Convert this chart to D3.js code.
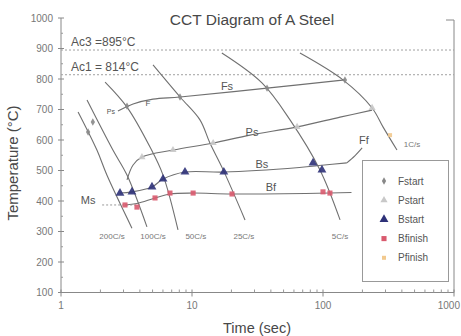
<!DOCTYPE html>
<html>
<head>
<meta charset="utf-8">
<script src="https://cdn.jsdelivr.net/npm/d3@7"></script>
<style>
  body { margin: 0; background: #fff; }
  svg { display: block; font-family: "Liberation Sans", Arial, sans-serif; }
</style>
</head>
<body>
<div id="chart"></div>
<script>
// cooling curves: [time (s), temperature (°C)]
const coolingRates = ['200C/s', '100C/s', '50C/s', '25C/s', '5C/s', '1C/s'];
const cool200 = [[1.35, 692], [1.88, 567], [2.24, 485], [3.48, 311]];
const cool100 = [[1.58, 731], [2.49, 567], [3.19, 485], [4.53, 315]];
const cool50 = [[2.17, 790], [3.19, 708], [4.78, 577], [6.01, 485], [7.82, 305]];
const cool25 = [[5.04, 846], [8.1, 741], [11.5, 666], [13.7, 590], [17.3, 502], [25.4, 338]];
const cool5 = [[16.9, 885], [34.2, 787], [56, 666], [94.8, 502], [135, 338]];
const cool1 = [[66.7, 885], [142, 797], [237, 705], [287, 643], [367, 567]];
const coolLabelPos = [[2.45, 275], [5.04, 275], [10.7, 275], [24.9, 275], [135, 275], [413, 578]];

// transformation lines
const fsLine = [[2.72, 695], [3.55, 718], [5.04, 734], [8.1, 741], [37.4, 770], [147, 797]];
const psLine = [[3.19, 469], [3.55, 518], [4.15, 544], [7.16, 567], [14.5, 590], [27.7, 616], [63.4, 643], [135, 675], [237, 698]];
const bsLine = [[2.82, 426], [3.48, 430], [4.95, 446], [6.01, 472], [8.84, 495], [17.5, 495], [66, 510], [98, 517], [152, 525]];
const ffLine = [[152, 525], [175, 548], [199, 574]];
const bfLine = [[3.08, 387], [3.8, 392], [5.22, 410], [6.79, 423], [10.2, 426], [20.2, 423], [113, 426], [165, 428]];
const msLine = [[2.06, 387], [4.01, 387]];

// measured points
const fStart = [[1.61, 626], [1.75, 659], [3.19, 711], [8.1, 741], [37.4, 770], [147, 797]];
const pStart = [[4.15, 544], [7.16, 567], [14.5, 590], [63.4, 643], [237, 705]];
const bStart = [[2.82, 426], [3.48, 430], [4.95, 446], [6.01, 472], [8.84, 495], [17.5, 495], [83.9, 525], [98.2, 502]];
const bFinish = [[3.08, 387], [3.8, 380], [5.22, 410], [6.79, 426], [10.2, 426], [20.2, 423], [100, 430], [113, 426]];
const pFinish = [[325, 616]];

const ac3 = 895, ac1 = 814;
const xTicks = [1, 10, 100, 1000];
const yTicks = [100, 200, 300, 400, 500, 600, 700, 800, 900, 1000];
const legendNames = ['Fstart', 'Pstart', 'Bstart', 'Bfinish', 'Pfinish'];

const width = 461, height = 336;
const svg = d3.select('#chart').append('svg')
  .attr('width', width).attr('height', height);

const x = d3.scaleLog().domain([1, 1000]).range([61, 454]);
const y = d3.scaleLinear().domain([100, 1000]).range([292.5, 18]);

const lineCol = '#707070';
const textCol = '#555';

// title
svg.append('text').attr('x', 252).attr('y', 25).attr('text-anchor', 'middle')
  .style('font-size', '15.5px').attr('fill', '#484848').text('CCT Diagram of A Steel');

// axes frame
svg.append('line').attr('x1', x(1)).attr('x2', x(1)).attr('y1', y(1000)).attr('y2', y(100))
  .attr('stroke', '#888');
svg.append('line').attr('x1', x(1)).attr('x2', x(1000)).attr('y1', y(100)).attr('y2', y(100))
  .attr('stroke', '#888');
svg.append('line').attr('x1', x(1000)).attr('x2', x(1000)).attr('y1', y(1000) + 2).attr('y2', y(100))
  .attr('stroke', '#888');
svg.append('line').attr('x1', x(1000) - 8).attr('x2', x(1000)).attr('y1', y(1000) + 2).attr('y2', y(1000) + 2)
  .attr('stroke', '#888');

// y ticks
const yMinor = d3.range(150, 1000, 100);
svg.selectAll('.ytick').data(yTicks).enter().append('line')
  .attr('x1', x(1) - 3).attr('x2', x(1) + 3)
  .attr('y1', d => y(d)).attr('y2', d => y(d)).attr('stroke', '#888');
svg.selectAll('.yminor').data(yMinor).enter().append('line')
  .attr('x1', x(1)).attr('x2', x(1) + 2)
  .attr('y1', d => y(d)).attr('y2', d => y(d)).attr('stroke', '#999');
svg.selectAll('.ylab').data(yTicks).enter().append('text')
  .attr('x', 53).attr('y', d => y(d) + 3.5).attr('text-anchor', 'end')
  .style('font-size', '10px').attr('fill', '#777').text(d => d);

// x ticks
const xMinor = [];
[1, 10, 100].forEach(dec => { for (let k = 2; k <= 9; k++) xMinor.push(dec * k); });
svg.selectAll('.xtick').data(xTicks).enter().append('line')
  .attr('x1', d => x(d)).attr('x2', d => x(d))
  .attr('y1', y(100) - 3).attr('y2', y(100) + 4).attr('stroke', '#888');
svg.selectAll('.xminor').data(xMinor).enter().append('line')
  .attr('x1', d => x(d)).attr('x2', d => x(d))
  .attr('y1', y(100) - 3).attr('y2', y(100)).attr('stroke', '#999');
svg.selectAll('.xlab').data(xTicks).enter().append('text')
  .attr('x', d => d === 1000 ? width - 1 : x(d)).attr('y', 309)
  .attr('text-anchor', d => d === 1000 ? 'end' : 'middle')
  .style('font-size', '10px').attr('fill', '#777').text(d => d);

// axis titles
svg.append('text').attr('transform', 'translate(18,163) rotate(-90)').attr('text-anchor', 'middle')
  .style('font-size', '15px').attr('fill', '#484848').text('Temperature (°C)');
svg.append('text').attr('x', 257).attr('y', 333).attr('text-anchor', 'middle')
  .style('font-size', '14.5px').attr('fill', '#484848').text('Time (sec)');

// Ac lines
[[ac3, 'Ac3 =' + ac3 + '°C'], [ac1, 'Ac1 = ' + ac1 + '°C']].forEach(([v, lab]) => {
  svg.append('line').attr('x1', x(1)).attr('x2', x(1000)).attr('y1', y(v)).attr('y2', y(v))
    .attr('stroke', '#a0a0a0').attr('stroke-dasharray', '2,2');
  svg.append('text').attr('x', 71).attr('y', y(v) - 4)
    .style('font-size', '12px').attr('fill', textCol).text(lab);
});

const line = d3.line().x(d => x(d[0])).y(d => y(d[1])).curve(d3.curveCatmullRom);

// cooling curves
const cooling = [cool200, cool100, cool50, cool25, cool5, cool1];
svg.selectAll('.cool').data(cooling).enter().append('path')
  .attr('d', line).attr('fill', 'none').attr('stroke', lineCol).attr('stroke-width', 1.1);
svg.selectAll('.coollab').data(coolingRates).enter().append('text')
  .attr('x', (d, i) => x(coolLabelPos[i][0])).attr('y', (d, i) => y(coolLabelPos[i][1]))
  .attr('text-anchor', (d, i) => i === 5 ? 'start' : 'middle')
  .style('font-size', '8px').attr('fill', '#777').text(d => d);

// transformation curves
[fsLine, psLine, bsLine, ffLine, bfLine].forEach(d => {
  svg.append('path').datum(d).attr('d', line).attr('fill', 'none')
    .attr('stroke', lineCol).attr('stroke-width', 1.1);
});
svg.append('path').datum(msLine).attr('d', line).attr('fill', 'none')
  .attr('stroke', '#999').attr('stroke-dasharray', '2,2');

// line labels
const lineLabels = [
  ['Fs', 18.5, 764, 11], ['Ps', 28.7, 613, 11], ['Bs', 34.2, 508, 11], ['Bf', 40, 432, 11],
  ['Ff', 205, 588, 11], ['Ms', 1.61, 390, 11], ['Ps', 2.4, 686, 7], ['F', 4.6, 712, 8]
];
svg.selectAll('.llab').data(lineLabels).enter().append('text')
  .attr('x', d => x(d[1])).attr('y', d => y(d[2])).attr('text-anchor', 'middle')
  .style('font-size', d => d[3] + 'px').attr('fill', textCol).text(d => d[0]);

// markers
const styles = {
  Fstart: { sym: d3.symbolDiamond, size: 16, fill: '#888' },
  Pstart: { sym: d3.symbolTriangle, size: 22, fill: '#c8c8c8' },
  Bstart: { sym: d3.symbolTriangle, size: 34, fill: '#2e3178' },
  Bfinish: { sym: d3.symbolSquare, size: 26, fill: '#d95a6e' },
  Pfinish: { sym: d3.symbolSquare, size: 16, fill: '#f2c98e' }
};
const sets = { Fstart: fStart, Pstart: pStart, Bstart: bStart, Bfinish: bFinish, Pfinish: pFinish };
Object.keys(sets).forEach(k => {
  const s = styles[k];
  svg.selectAll('.m' + k).data(sets[k]).enter().append('path')
    .attr('d', d3.symbol().type(s.sym).size(s.size))
    .attr('transform', d => `translate(${x(d[0])},${y(d[1])})`)
    .attr('fill', s.fill).attr('opacity', 0.9);
});

// legend
const legend = svg.append('g');
legend.append('rect').attr('x', 362.5).attr('y', 160.5).attr('width', 86).attr('height', 121)
  .attr('fill', '#fff').attr('stroke', '#999');
legendNames.forEach((n, i) => {
  const s = styles[n];
  const ly = 181 + i * 19.2;
  legend.append('path').attr('d', d3.symbol().type(s.sym).size(s.size))
    .attr('transform', `translate(384,${ly})`).attr('fill', s.fill);
  legend.append('text').attr('x', 398).attr('y', ly + 3.5)
    .style('font-size', '10px').attr('fill', textCol).text(n);
});
</script>
</body>
</html>
